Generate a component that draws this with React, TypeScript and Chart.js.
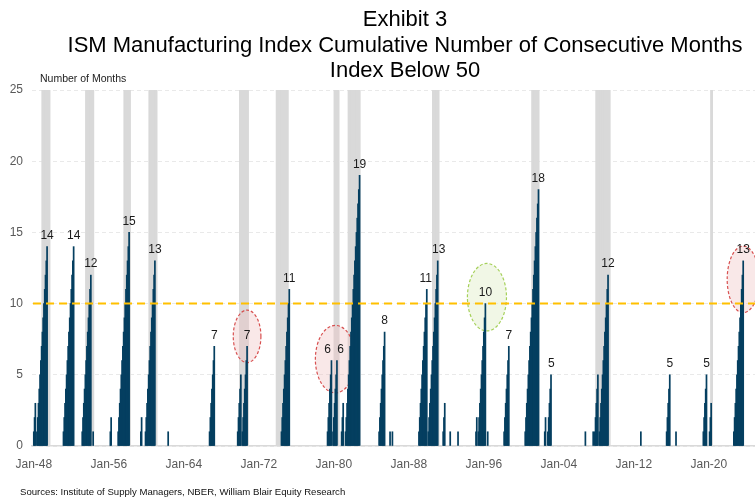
import React, { useEffect, useRef } from "react";
import { Chart, registerables } from "chart.js";

Chart.register(...registerables);

// ---------------- data ----------------
const BASE_YEAR = 1948;

const titleLines = [
  "Exhibit 3",
  "ISM Manufacturing Index Cumulative Number of Consecutive Months",
  "Index Below 50",
];
const yAxisTitle = "Number of Months";
const sourceNote = "Sources: Institute of Supply Managers, NBER, William Blair Equity Research";

const xTickLabels = ["Jan-48", "Jan-56", "Jan-64", "Jan-72", "Jan-80", "Jan-88", "Jan-96", "Jan-04", "Jan-12", "Jan-20"];
const yTickValues = [0, 5, 10, 15, 20, 25];
const thresholdValue = 10;

// episodes of consecutive months with index below 50 (first month, running counts)
const episodeStarts = [
  "1948-01", "1948-05", "1951-03", "1953-03", "1954-05", "1956-03", "1957-01", "1959-06", "1959-12", "1962-05",
  "1966-10", "1969-10", "1970-04", "1974-06", "1979-05", "1979-12", "1980-11", "1981-04", "1984-11", "1986-01",
  "1986-04", "1989-02", "1990-02", "1991-09", "1992-06", "1993-04", "1995-03", "1995-06", "1996-06", "1998-03",
  "2000-06", "2002-07", "2002-11", "2006-11", "2007-09", "2007-11", "2008-05", "2012-10", "2015-07", "2016-07",
  "2019-06", "2020-02", "2022-09",
];
const episodeCounts = [
  [1, 2, 3],
  [1, 2, 3, 4, 5, 6, 7, 8, 9, 10, 11, 12, 13, 14],
  [1, 2, 3, 4, 5, 6, 7, 8, 9, 10, 11, 12, 13, 14],
  [1, 2, 3, 4, 5, 6, 7, 8, 9, 10, 11, 12],
  [1],
  [1, 2],
  [1, 2, 3, 4, 5, 6, 7, 8, 9, 10, 11, 12, 13, 14, 15],
  [1, 2],
  [1, 2, 3, 4, 5, 6, 7, 8, 9, 10, 11, 12, 13],
  [1],
  [1, 2, 3, 4, 5, 6, 7],
  [1, 2, 3, 4, 5],
  [1, 2, 3, 4, 5, 6, 7],
  [1, 2, 3, 4, 5, 6, 7, 8, 9, 10, 11],
  [1, 2, 3, 4, 5, 6],
  [1, 2, 3, 4, 5, 6],
  [1, 2, 3],
  [1, 2, 3, 4, 5, 6, 7, 8, 9, 10, 11, 12, 13, 14, 15, 16, 17, 18, 19],
  [1, 2, 3, 4, 5, 6, 7, 8],
  [1],
  [1],
  [1, 2, 3, 4, 5, 6, 7, 8, 9, 10, 11],
  [1, 2, 3, 4, 5, 6, 7, 8, 9, 10, 11, 12, 13],
  [1, 2, 3],
  [1],
  [1],
  [1, 2],
  [1, 2, 3, 4, 5, 6, 7, 8, 9, 10],
  [1],
  [1, 2, 3, 4, 5, 6, 7],
  [1, 2, 3, 4, 5, 6, 7, 8, 9, 10, 11, 12, 13, 14, 15, 16, 17, 18],
  [1, 2],
  [1, 2, 3, 4, 5],
  [1],
  [1],
  [1, 2, 3, 4, 5],
  [1, 2, 3, 4, 5, 6, 7, 8, 9, 10, 11, 12],
  [1],
  [1, 2, 3, 4, 5],
  [1],
  [1, 2, 3, 4, 5],
  [1, 2, 3],
  [1, 2, 3, 4, 5, 6, 7, 8, 9, 10, 11, 12, 13],
];
const episodeLabelled = [
  false, true, true, true, false, false, true, false, true, false,
  true, false, true, true, true, true, false, true, true, false,
  false, true, true, false, false, false, false, true, false, true,
  true, false, true, false, false, false, true, false, true, false,
  true, false, true,
];

// NBER recessions (first and last month shaded)
const recessionStarts = ["1948-12", "1953-08", "1957-09", "1960-05", "1970-01", "1973-12", "1980-02", "1981-08", "1990-08", "2001-03", "2008-01", "2020-04"];
const recessionEnds = ["1949-09", "1954-05", "1958-04", "1961-02", "1970-11", "1975-02", "1980-07", "1982-10", "1991-03", "2001-11", "2009-06", "2020-05"];
const recessionTop = 25;

// highlighted episodes (ellipse centre month and value)
const highlightCenters = ["1970-10", "1980-03", "1996-05", "2023-09"];
const highlightValues = [7.7, 6.1, 10.45, 11.7];
const highlightKinds = ["red", "red", "green", "red"];

// ---------------- helpers ----------------
function monthIndex(s: string): number {
  const [y, m] = s.split("-").map(Number);
  return (y - BASE_YEAR) * 12 + (m - 1);
}
function tickMonth(label: string): number {
  const yy = Number(label.slice(4));
  const year = yy >= 40 ? 1900 + yy : 2000 + yy;
  return (year - BASE_YEAR) * 12;
}

const FONT = '"Liberation Sans", Arial, sans-serif';

// ellipse sizes (in months / index points) and styles
const ellipseSize = [
  { rx: 17.7, ry: 1.84 },
  { rx: 25.6, ry: 2.37 },
  { rx: 25.0, ry: 2.37 },
  { rx: 20.5, ry: 2.34 },
];
const ellipseStyle: Record<string, { stroke: string; fill: string }> = {
  red: { stroke: "rgba(214, 72, 72, 0.95)", fill: "rgba(240, 195, 195, 0.38)" },
  green: { stroke: "rgba(160, 205, 80, 0.95)", fill: "rgba(225, 238, 200, 0.45)" },
};

export default function App() {
  const ref = useRef<HTMLCanvasElement | null>(null);

  useEffect(() => {
    if (!ref.current) return;

    const barData: { x: number; y: number }[] = [];
    episodeStarts.forEach((s, i) => {
      const m0 = monthIndex(s);
      episodeCounts[i].forEach((v, j) => barData.push({ x: m0 + j, y: v }));
    });
    const bandData: { x: number; y: number }[] = [];
    recessionStarts.forEach((s, i) => {
      const a = monthIndex(s);
      const b = monthIndex(recessionEnds[i]);
      for (let m = a; m <= b; m++) bandData.push({ x: m, y: recessionTop });
    });
    const tickMonths = xTickLabels.map(tickMonth);

    const overlay = {
      id: "overlay",
      afterDatasetDraw(chart: any, args: any) {
        if (args.index !== 1) return;
        const { ctx, scales } = chart;
        const xs = scales.x;
        const ys = scales.y;
        highlightCenters.forEach((c, i) => {
          const cx = xs.getPixelForValue(monthIndex(c));
          const cy = ys.getPixelForValue(highlightValues[i]);
          const rx = Math.abs(xs.getPixelForValue(monthIndex(c) + ellipseSize[i].rx) - cx);
          const ry = Math.abs(ys.getPixelForValue(highlightValues[i] + ellipseSize[i].ry) - cy);
          const st = ellipseStyle[highlightKinds[i]];
          ctx.save();
          ctx.beginPath();
          ctx.ellipse(cx, cy, rx, ry, 0, 0, Math.PI * 2);
          ctx.fillStyle = st.fill;
          ctx.fill();
          ctx.setLineDash([3, 2]);
          ctx.lineWidth = 1.2;
          ctx.strokeStyle = st.stroke;
          ctx.stroke();
          ctx.restore();
        });
      },
      afterDatasetsDraw(chart: any) {
        const { ctx, scales, chartArea } = chart;
        const xs = scales.x;
        const ys = scales.y;
        // threshold line
        const ty = ys.getPixelForValue(thresholdValue);
        ctx.save();
        ctx.beginPath();
        ctx.setLineDash([8, 5]);
        ctx.lineWidth = 2;
        ctx.strokeStyle = "#FFC000";
        ctx.moveTo(chartArea.left + 1, ty);
        ctx.lineTo(chartArea.right, ty);
        ctx.stroke();
        ctx.restore();

        // peak labels
        const labels: { x: number; y: number; t: string }[] = [];
        episodeStarts.forEach((s, i) => {
          if (!episodeLabelled[i]) return;
          const vals = episodeCounts[i];
          let k = 0;
          vals.forEach((v, j) => {
            if (v >= vals[k]) k = j;
          });
          labels.push({
            x: xs.getPixelForValue(monthIndex(s) + k),
            y: ys.getPixelForValue(vals[k]) - 11,
            t: String(vals[k]),
          });
        });
        for (let i = 1; i < labels.length; i++) {
          const d = labels[i].x - labels[i - 1].x;
          if (d < 13) {
            const push = (13 - d) / 2;
            labels[i - 1].x -= push;
            labels[i].x += push;
          }
        }
        ctx.save();
        ctx.font = `12px ${FONT}`;
        ctx.fillStyle = "#1a1a1a";
        ctx.textAlign = "center";
        ctx.textBaseline = "middle";
        labels.forEach((l) => ctx.fillText(l.t, l.x, l.y));
        ctx.restore();
      },
      afterDraw(chart: any) {
        const { ctx } = chart;
        ctx.save();
        ctx.fillStyle = "#000";
        ctx.textAlign = "center";
        ctx.textBaseline = "alphabetic";
        ctx.font = `22px ${FONT}`;
        const baselines = [26, 52, 77];
        titleLines.forEach((t, i) => ctx.fillText(t, 405, baselines[i]));
        ctx.textAlign = "left";
        ctx.font = `10.5px ${FONT}`;
        ctx.fillStyle = "#222";
        ctx.fillText(yAxisTitle, 40, 82);
        ctx.font = `9.6px ${FONT}`;
        ctx.fillStyle = "#111";
        ctx.fillText(sourceNote, 20, 495);
        ctx.restore();
      },
    };

    const chart = new Chart(ref.current, {
      type: "bar",
      data: {
        datasets: [
          {
            label: "Consecutive months below 50",
            data: barData,
            backgroundColor: "#053f60",
            borderWidth: 0,
            barThickness: 1.05,
            grouped: false,
            order: 1,
          } as any,
          {
            label: "Recession",
            data: bandData,
            backgroundColor: "#d9d9d9",
            borderWidth: 0,
            barThickness: 1.4,
            grouped: false,
            order: 2,
          } as any,
        ],
      },
      options: {
        responsive: false,
        animation: false,
        devicePixelRatio: 1,
        events: [],
        layout: { padding: { top: 90, left: 0, right: 0, bottom: 0 } },
        plugins: {
          legend: { display: false },
          tooltip: { enabled: false },
          title: { display: false },
        },
        scales: {
          x: {
            type: "linear",
            offset: false,
            min: -2.3,
            max: 923.1,
            grid: { display: false, drawTicks: false, offset: false },
            border: { display: true, color: "#d9d9d9", width: 1.5 },
            ticks: {
              color: "#595959",
              font: { family: FONT, size: 12 },
              padding: 11,
              maxRotation: 0,
              autoSkip: false,
              callback: (v: any) => {
                const i = tickMonths.indexOf(Number(v));
                return i >= 0 ? xTickLabels[i] : "";
              },
            },
            afterBuildTicks: (scale: any) => {
              scale.ticks = tickMonths.map((m) => ({ value: m }));
            },
            afterFit: (scale: any) => {
              scale.height = 54;
            },
          },
          y: {
            min: 0,
            max: 25,
            ticks: {
              stepSize: 5,
              color: "#595959",
              font: { family: FONT, size: 12 },
              padding: 9,
            },
            afterBuildTicks: (scale: any) => {
              scale.ticks = yTickValues.map((v) => ({ value: v }));
            },
            grid: { color: "#e9e9e9", drawTicks: false, lineWidth: 1 },
            border: { display: false, dash: [4, 3] },
            afterFit: (scale: any) => {
              scale.width = 32;
            },
          },
        },
      } as any,
      plugins: [overlay],
    });

    return () => chart.destroy();
  }, []);

  return (
    <div style={{ position: "absolute", left: 0, top: 0, width: 755, height: 500, background: "#fff" }}>
      <canvas ref={ref} width={755} height={500} style={{ display: "block", width: 755, height: 500 }} />
    </div>
  );
}
